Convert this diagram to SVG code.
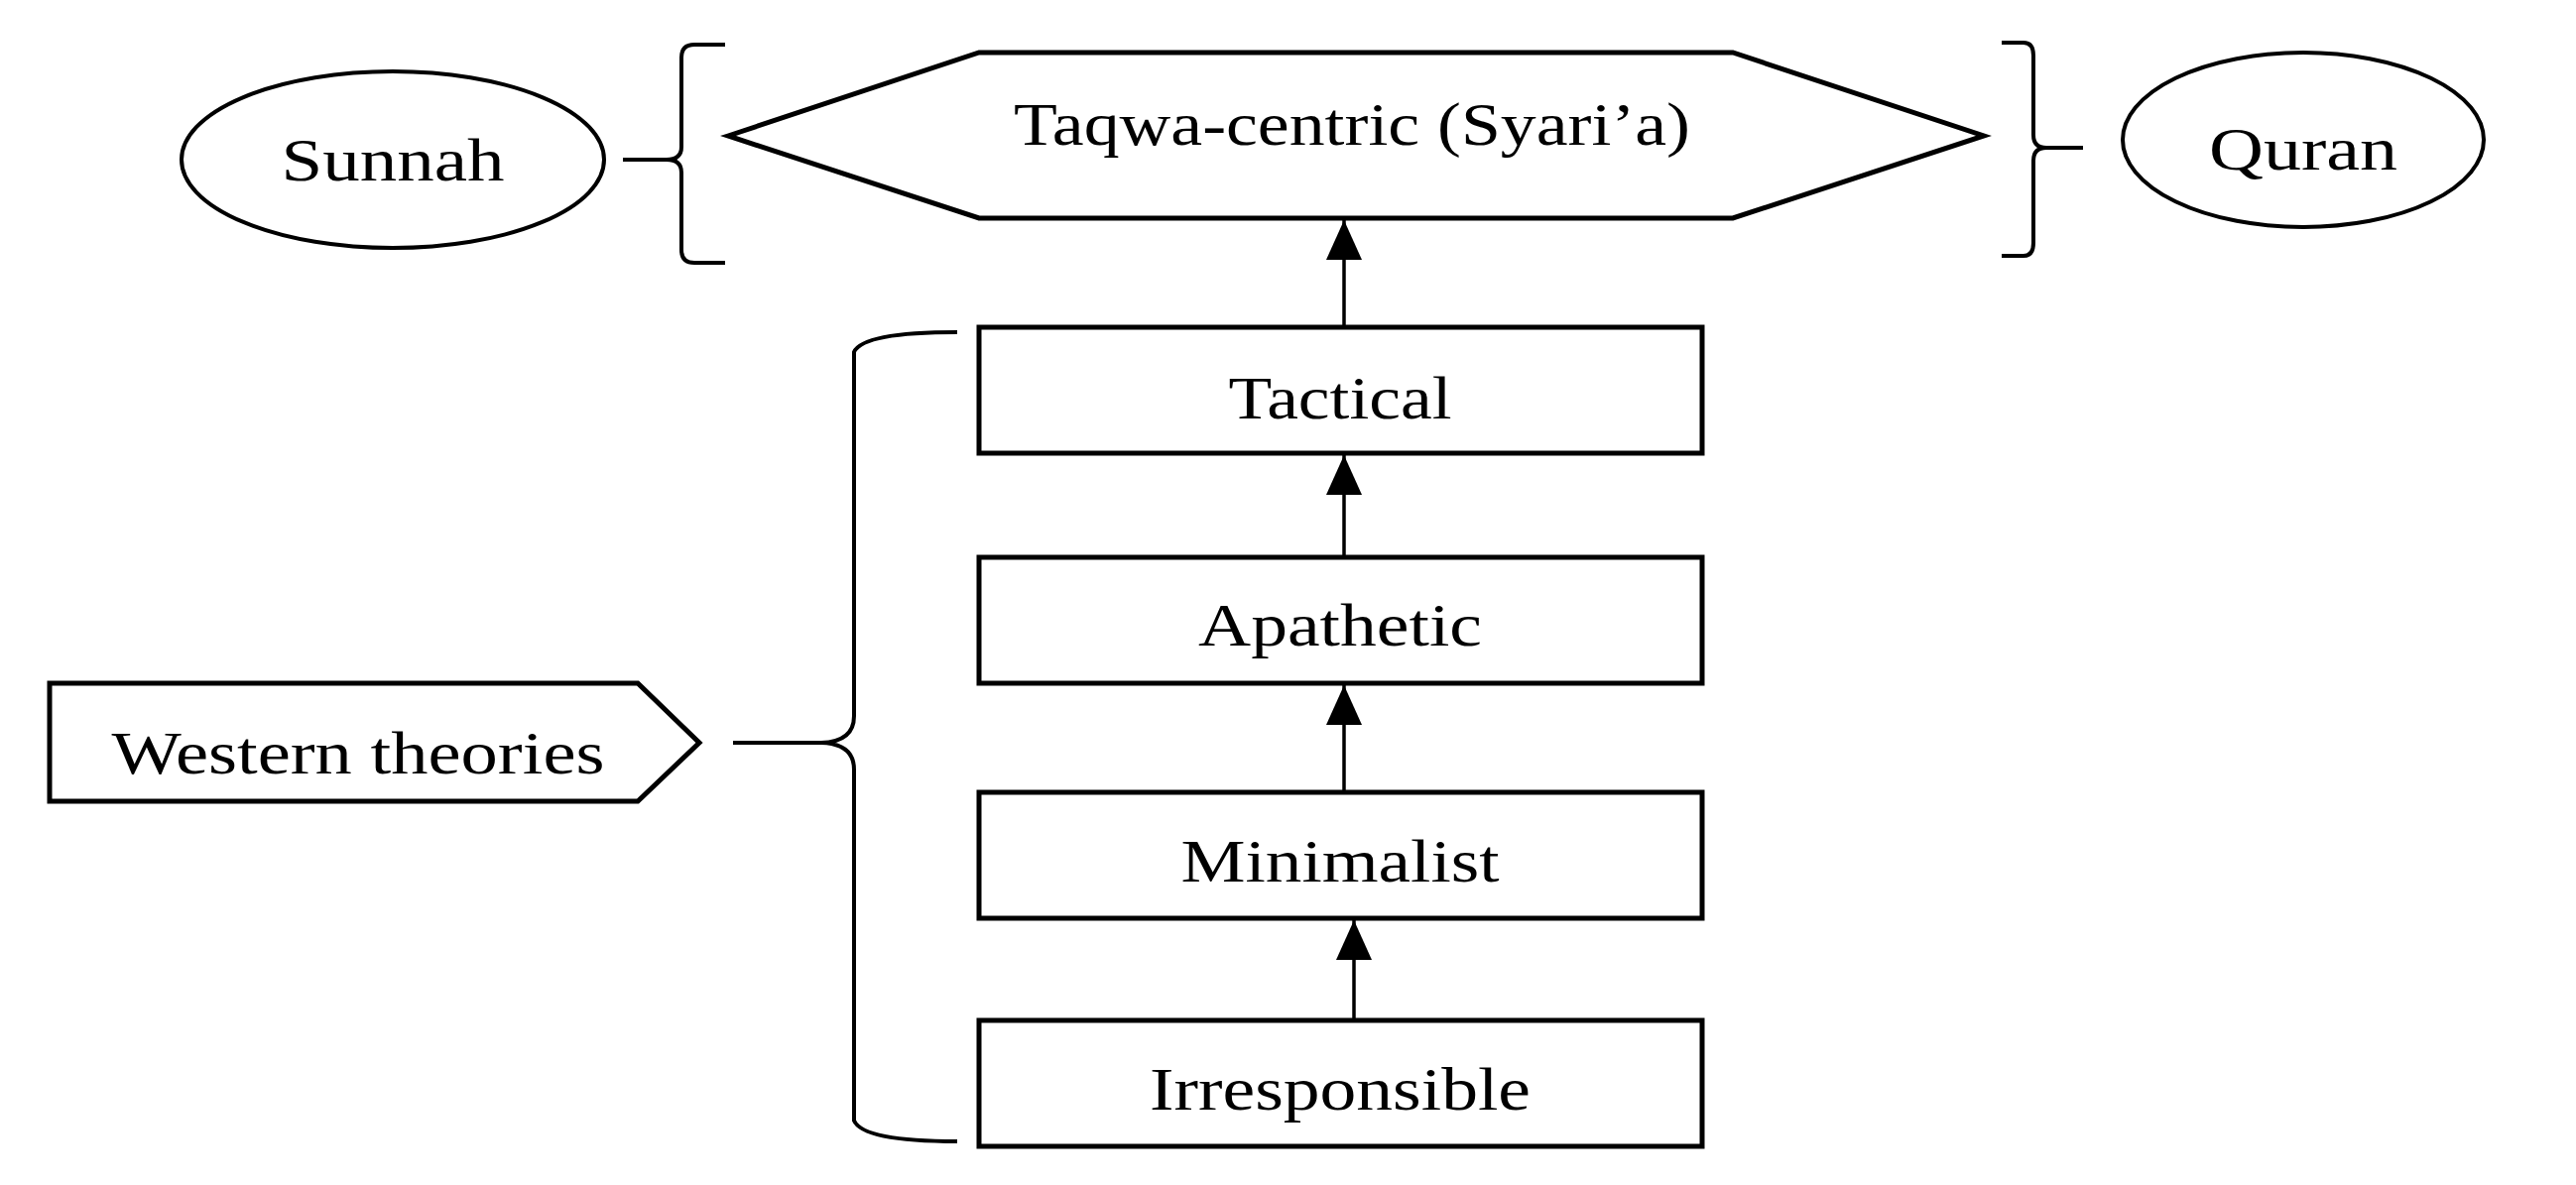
<svg xmlns="http://www.w3.org/2000/svg" width="2597" height="1195" viewBox="0 0 2597 1195">
<style>
.s{fill:#fff;stroke:#000;stroke-width:5}
.e{fill:#fff;stroke:#000;stroke-width:4}
.b{fill:none;stroke:#000;stroke-width:4}
.c{stroke:#000;stroke-width:3.5;fill:none}
text{font-family:"Liberation Serif",serif;font-size:62px;fill:#000;text-anchor:middle}
</style>
<defs><marker id="a" markerWidth="12" markerHeight="12" refX="10" refY="6" orient="auto" markerUnits="userSpaceOnUse" viewBox="0 0 12 12"><path d="M0,0 L12,6 L0,12 z" fill="#000"/></marker>
<marker id="ah" viewBox="0 0 40 40" refX="40" refY="20" markerWidth="42" markerHeight="40" orient="auto" markerUnits="userSpaceOnUse"><path d="M0,2 L40,20 L0,38 z" fill="#000"/></marker></defs>
<g id="sunnah"><ellipse class="e" cx="396" cy="161" rx="213" ry="89"/><text x="396" y="182" textLength="225" lengthAdjust="spacingAndGlyphs">Sunnah</text></g>
<g id="taqwa"><polygon class="s" points="734,137 987,53 1747,53 2000,137 1747,220 987,220"/><text x="1363" y="146" textLength="682" lengthAdjust="spacingAndGlyphs">Taqwa-centric (Syari’a)</text></g>
<g id="quran"><ellipse class="e" cx="2322" cy="141" rx="182" ry="88"/><text x="2322" y="171" textLength="190" lengthAdjust="spacingAndGlyphs">Quran</text></g>
<g id="tactical"><rect class="s" x="987" y="330" width="729" height="127"/><text x="1351" y="422" textLength="225" lengthAdjust="spacingAndGlyphs">Tactical</text></g>
<g id="apathetic"><rect class="s" x="987" y="562" width="729" height="127"/><text x="1351" y="651" textLength="286" lengthAdjust="spacingAndGlyphs">Apathetic</text></g>
<g id="minimalist"><rect class="s" x="987" y="799" width="729" height="127"/><text x="1351" y="889" textLength="321" lengthAdjust="spacingAndGlyphs">Minimalist</text></g>
<g id="irresponsible"><rect class="s" x="987" y="1029" width="729" height="127"/><text x="1351" y="1119" textLength="384" lengthAdjust="spacingAndGlyphs">Irresponsible</text></g>
<g id="western"><polygon class="s" points="50,689 643,689 705,749 643,808 50,808"/><text x="361" y="780" textLength="497" lengthAdjust="spacingAndGlyphs">Western theories</text></g>
<g id="connectors">
<line class="c" x1="1355" y1="330" x2="1355" y2="222" marker-end="url(#ah)"/>
<line class="c" x1="1355" y1="562" x2="1355" y2="459" marker-end="url(#ah)"/>
<line class="c" x1="1355" y1="799" x2="1355" y2="691" marker-end="url(#ah)"/>
<line class="c" x1="1365" y1="1029" x2="1365" y2="928" marker-end="url(#ah)"/>
<path class="b" d="M731,45 L700,45 Q687,45 687,58 L687,148 Q687,161 672,161 L628,161 M672,161 Q687,161 687,174 L687,252 Q687,265 700,265 L731,265"/>
<path class="b" d="M2018,43 L2040,43 Q2050,43 2050,56 L2050,136 Q2050,149 2063,149 L2100,149 M2063,149 Q2050,149 2050,162 L2050,245 Q2050,258 2040,258 L2018,258"/>
<path class="b" d="M965,335 Q870,335 861,355 L861,722 Q861,748 828,749 L739,749 M828,749 Q861,750 861,776 L861,1130 Q870,1151 965,1151"/>
</g>
</svg>
